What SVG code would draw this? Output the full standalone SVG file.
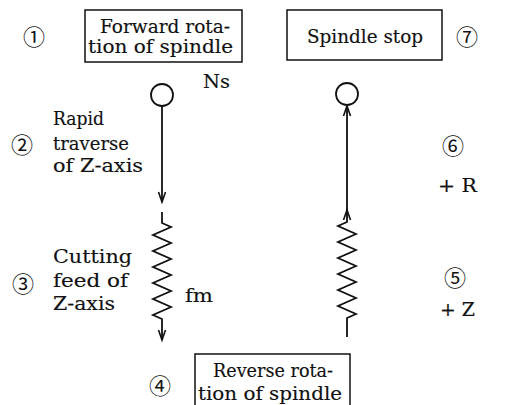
<svg xmlns="http://www.w3.org/2000/svg" width="515" height="405" viewBox="0 0 515 405">
<defs>
<style>
.t{font-family:"DejaVu Serif","Liberation Serif",serif;font-size:18px;fill:#111;stroke:#111;stroke-width:0.15}
.n{font-family:"Noto Sans CJK JP","DejaVu Sans",sans-serif;font-size:22px;fill:#111;text-anchor:middle;dominant-baseline:central}
.box{fill:none;stroke:#111;stroke-width:1.5}
.ln{fill:none;stroke:#111;stroke-width:1.8;stroke-linejoin:miter}
.ah{fill:none;stroke:#111;stroke-width:1.6}
.c{fill:#fff;stroke:#111;stroke-width:1.8}
</style>
</defs>
<rect width="515" height="405" fill="#fff"/>
<g id="connectors">
<line class="ln" x1="162" y1="106" x2="162" y2="202"/>
<path class="ln" d="M162,212 L162,223 L171,227 L153,235 L171,243 L153,251 L171,259 L153,267 L171,275 L153,283 L171,291 L153,299 L171,307 L153,315 L162,319 L162,340"/>
<path class="ln" d="M347,337 L347,318 L356,314 L338,306 L356,298 L338,290 L356,282 L338,274 L356,266 L338,258 L356,250 L338,242 L356,234 L338,226 L347,222 L347,106"/>
<path class="ah" d="M158.5,192 L162,202 L165.5,192"/>
<path class="ah" d="M158.5,330 L162,340 L165.5,330"/>
<path class="ah" d="M343.5,116 L347,106 L350.5,116"/>
<path class="ah" d="M343.5,220 L347,210 L350.5,220"/>
</g>
<g id="step1">
<text class="n" x="34" y="35">①</text>
<rect class="box" x="85" y="10" width="157" height="52"/>
<text class="t" x="100" y="33" textLength="130" lengthAdjust="spacingAndGlyphs">Forward rota-</text>
<text class="t" x="88" y="53" textLength="145" lengthAdjust="spacingAndGlyphs">tion of spindle</text>
</g>
<g id="spindle-start">
<circle class="c" cx="162" cy="95" r="11"/>
<text class="t" x="203" y="88" textLength="27" lengthAdjust="spacingAndGlyphs">Ns</text>
</g>
<g id="step2">
<text class="n" x="22" y="143">②</text>
<text class="t" x="53" y="125" textLength="51" lengthAdjust="spacingAndGlyphs">Rapid</text>
<text class="t" x="53" y="150" textLength="76" lengthAdjust="spacingAndGlyphs">traverse</text>
<text class="t" x="53" y="172" textLength="90" lengthAdjust="spacingAndGlyphs">of Z-axis</text>
</g>
<g id="step3">
<text class="n" x="23" y="282">③</text>
<text class="t" x="53" y="263" textLength="79" lengthAdjust="spacingAndGlyphs">Cutting</text>
<text class="t" x="53" y="287" textLength="75" lengthAdjust="spacingAndGlyphs">feed of</text>
<text class="t" x="53" y="310" textLength="62" lengthAdjust="spacingAndGlyphs">Z-axis</text>
<text class="t" x="185" y="302" textLength="28" lengthAdjust="spacingAndGlyphs">fm</text>
</g>
<g id="step4">
<text class="n" x="160" y="384">④</text>
<rect class="box" x="195" y="354" width="155" height="60"/>
<text class="t" x="213" y="377" textLength="120" lengthAdjust="spacingAndGlyphs">Reverse rota-</text>
<text class="t" x="198" y="400" textLength="144" lengthAdjust="spacingAndGlyphs">tion of spindle</text>
</g>
<g id="step5">
<text class="n" x="455" y="276">⑤</text>
<text class="t" x="440" y="316" textLength="35" lengthAdjust="spacingAndGlyphs">+ Z</text>
</g>
<g id="step6">
<text class="n" x="453" y="144">⑥</text>
<text class="t" x="438" y="192" textLength="39" lengthAdjust="spacingAndGlyphs">+ R</text>
</g>
<g id="spindle-end">
<circle class="c" cx="347" cy="94" r="11"/>
</g>
<g id="step7">
<rect class="box" x="287" y="10" width="155" height="50"/>
<text class="t" x="307" y="43" textLength="116" lengthAdjust="spacingAndGlyphs">Spindle stop</text>
<text class="n" x="467" y="35">⑦</text>
</g>
</svg>
